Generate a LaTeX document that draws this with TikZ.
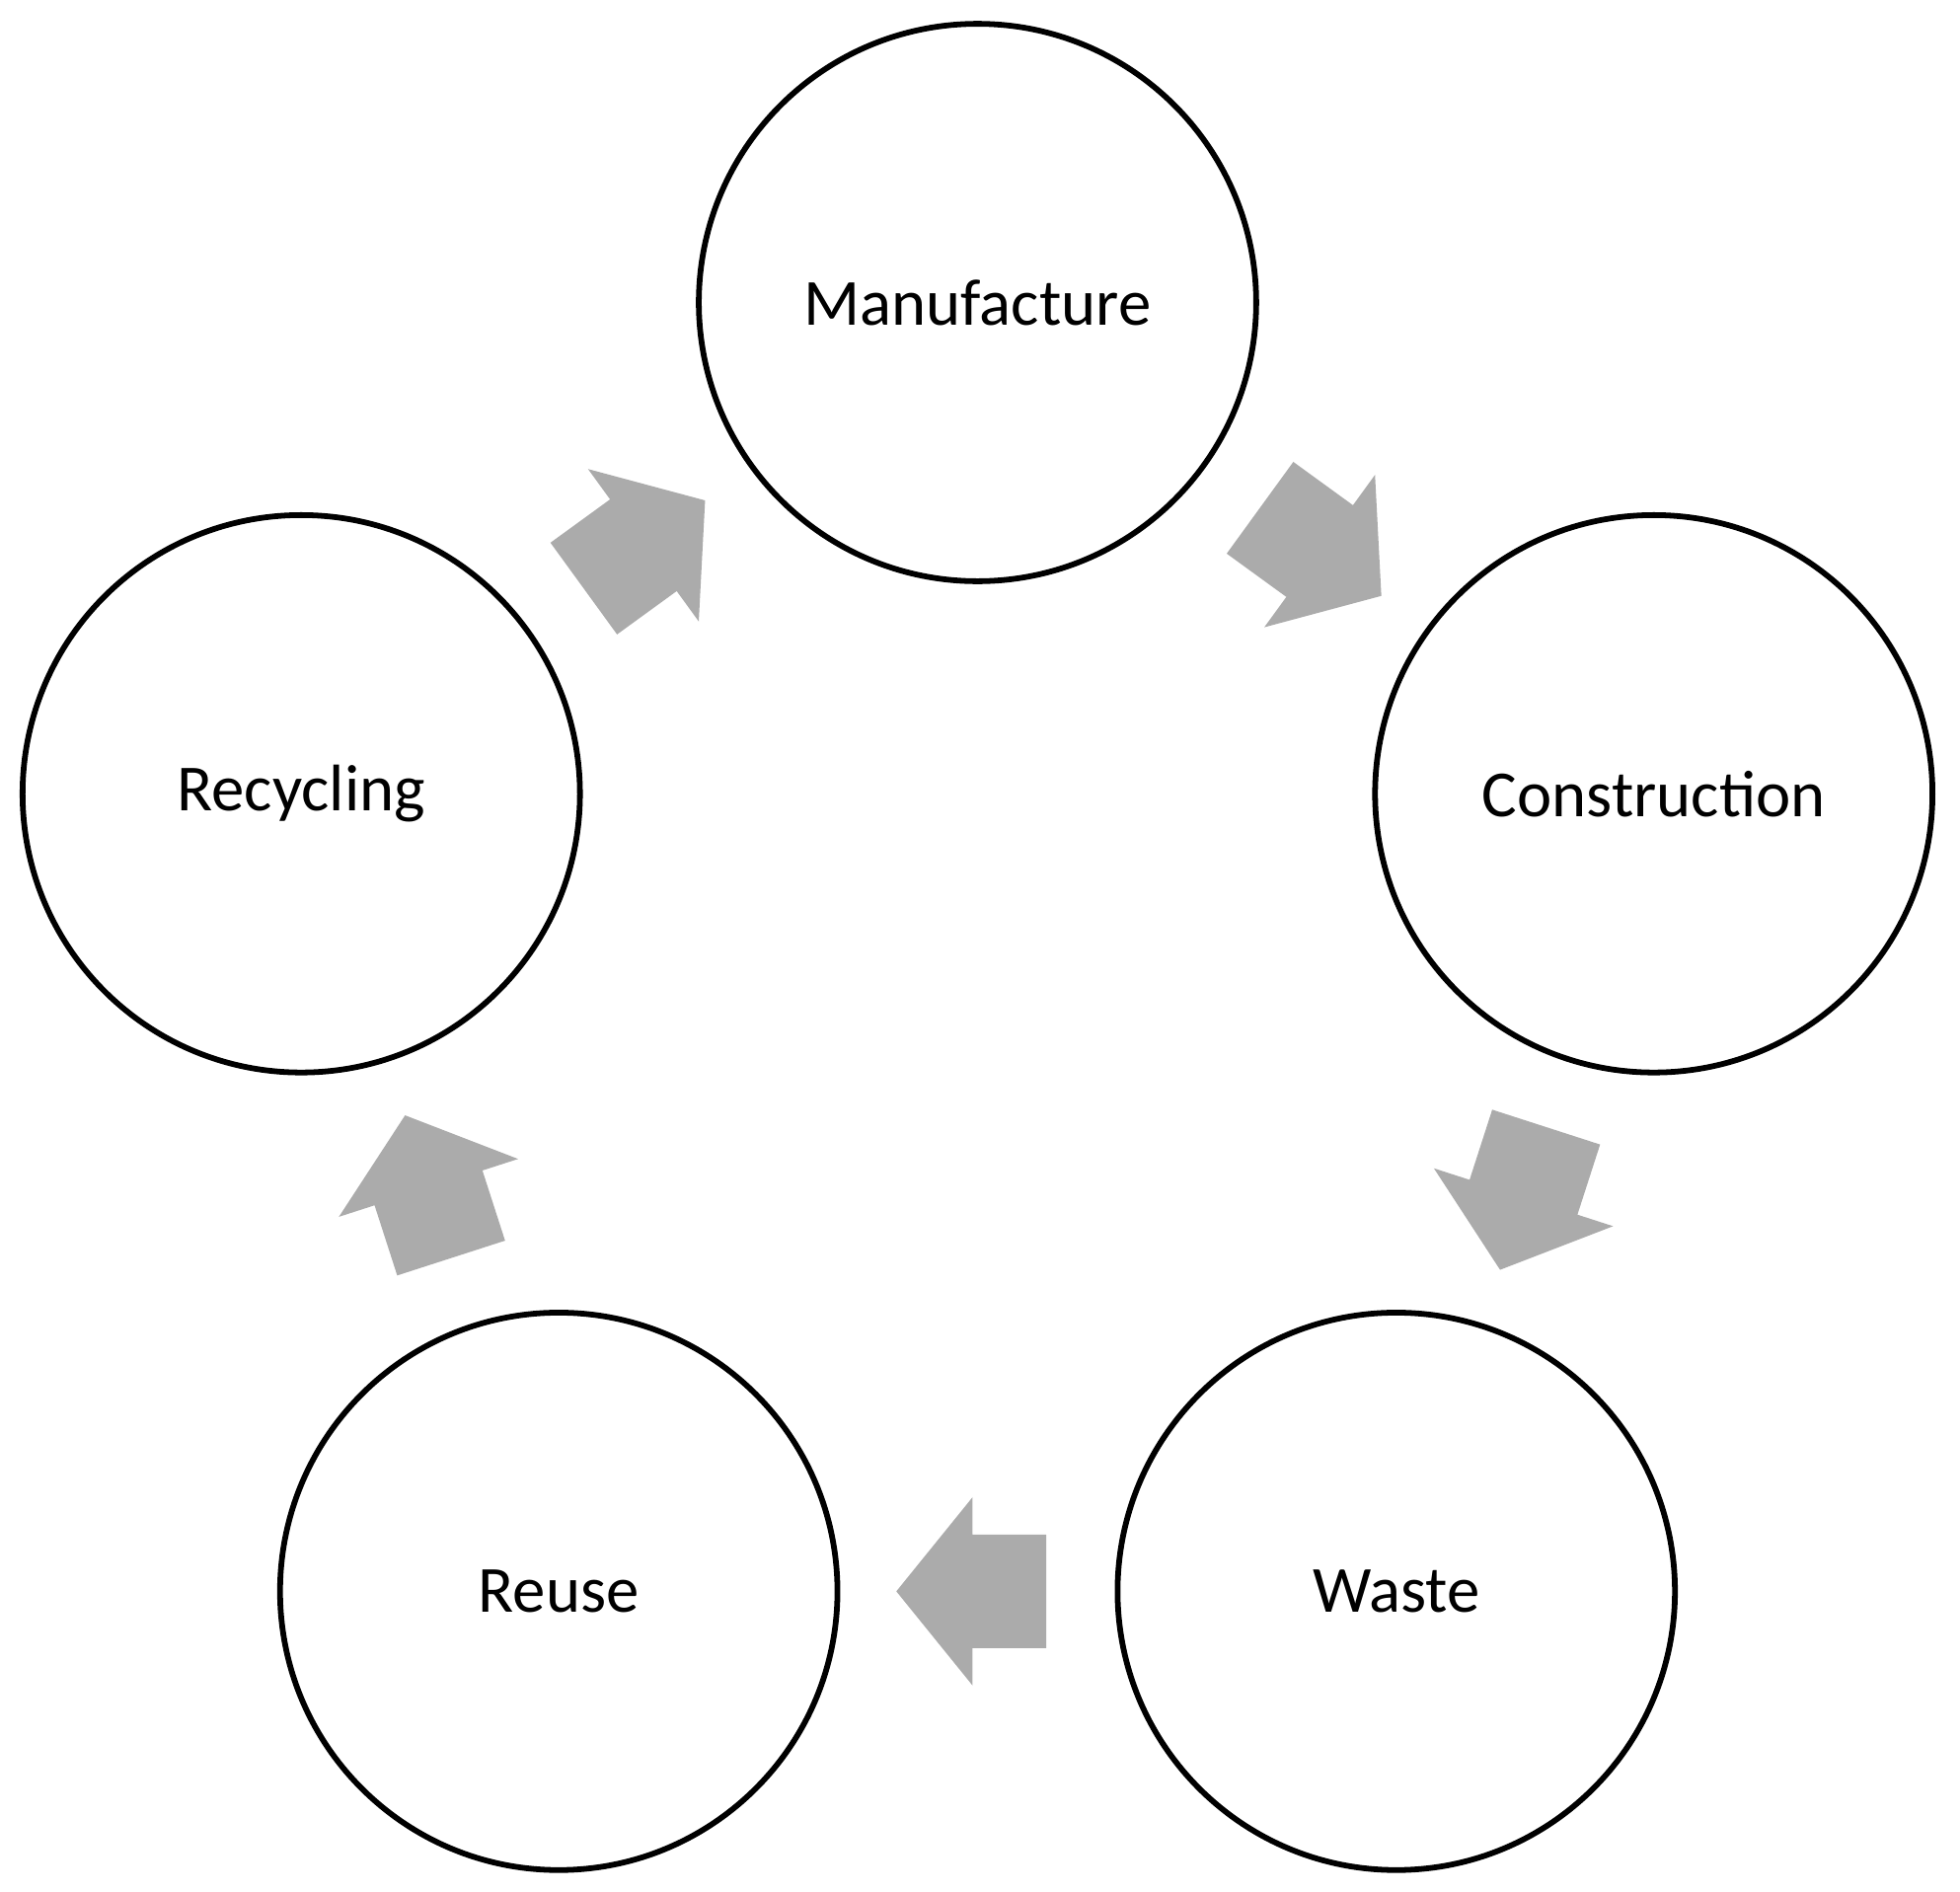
\documentclass[tikz,border=0pt]{standalone}
\usepackage{fontspec}
\setmainfont{Carlito}
\usetikzlibrary{shapes.arrows}
\begin{document}
\begin{tikzpicture}[x=0.02cm,y=-0.02cm,
  stage/.style={circle,draw=black,line width=2.6pt,minimum size=8.92cm,inner sep=0,font=\fontsize{30}{36}\selectfont},
  flow/.style={single arrow,fill=black!33,draw=none,inner xsep=0pt,inner ysep=0.9cm,text height=0pt,text depth=0pt,
    minimum height=2.4cm,single arrow head extend=0.6cm,single arrow tip angle=102,single arrow head indent=0pt,
    sloped,allow upside down,pos=0.48}]
\useasboundingbox (0,0) rectangle (1568,1513);
\node[stage] (man) at (782,242) {Manufacture};
\node[stage] (con) at (1323,635) {Construction};
\node[stage] (was) at (1117,1273) {Waste};
\node[stage] (reu) at (447,1273) {Reuse};
\node[stage] (rec) at (241,635) {Recycling};
\path (man.center) -- node[flow] (a1) {} (con.center);
\path (con.center) -- node[flow] (a2) {} (was.center);
\path (was.center) -- node[flow] (a3) {} (reu.center);
\path (reu.center) -- node[flow] (a4) {} (rec.center);
\path (rec.center) -- node[flow] (a5) {} (man.center);
\end{tikzpicture}
\end{document}
